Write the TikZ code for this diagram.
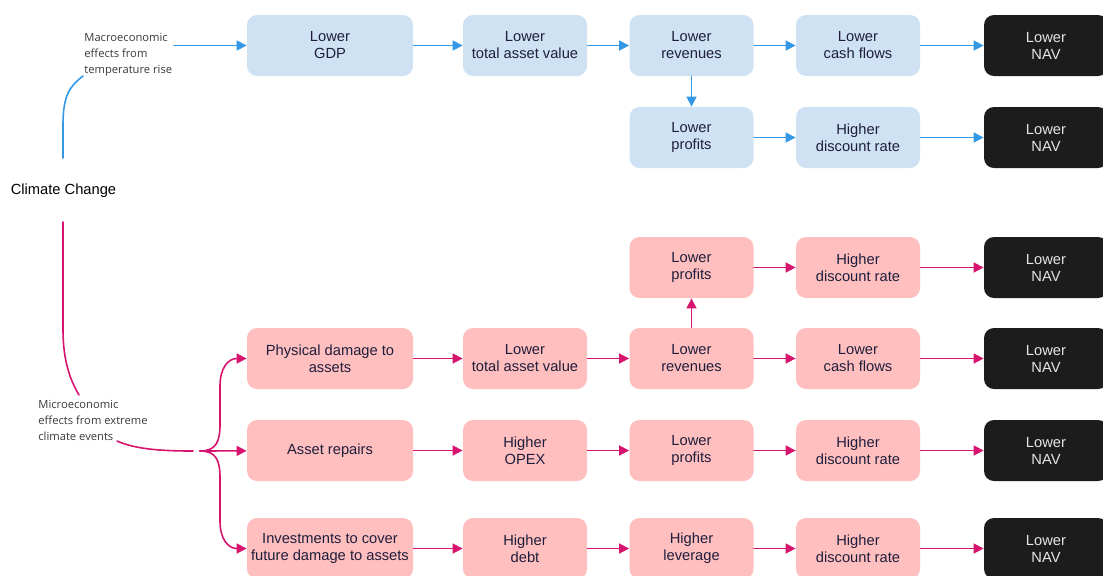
\documentclass[tikz,border=0pt]{standalone}
\usepackage{fontspec}
\setmainfont{Liberation Sans}
\newfontfamily\notefont{Open Sans}
\usetikzlibrary{arrows.meta}
\definecolor{boxblue}{HTML}{CFE2F3}
\definecolor{boxpink}{HTML}{FFBFBF}
\definecolor{navblack}{HTML}{1C1C1C}
\definecolor{arrblue}{HTML}{3399E6}
\definecolor{arrpink}{HTML}{D6146E}
\definecolor{boxtext}{HTML}{1E1E3C}
\definecolor{notetext}{HTML}{3A3A3A}
\begin{document}
\begin{tikzpicture}[x=0.5pt,y=-0.5pt,line join=round,line cap=round,
  font=\fontsize{7.35}{8.5}\selectfont,
  box/.style={rounded corners=5pt,align=center,minimum height=30.5pt,minimum width=62pt,inner sep=1pt,text=boxtext},
  wide/.style={minimum width=83pt},
  bbox/.style={box,fill=boxblue},
  pbox/.style={box,fill=boxpink},
  nav/.style={box,fill=navblack,text=white!90!black},
  note/.style={font=\notefont\fontsize{5.6}{8}\selectfont,text=notetext,align=left,anchor=west,inner sep=0pt},
  barrow/.style={draw=arrblue,line width=0.8pt,-{Triangle[length=5pt,width=5pt]}},
  parrow/.style={draw=arrpink,line width=0.8pt,-{Triangle[length=5pt,width=5pt]}},
  bline/.style={draw=arrblue,line width=0.8pt},
  pline/.style={draw=arrpink,line width=0.8pt}]
\useasboundingbox (0,0) rectangle (1103,575);
% left side
\node[text=black] (climate) at (63.5,191) {Climate Change};
\node[note] (macro) at (84,55) {Macroeconomic\\effects from\\temperature rise};
\node[note] (micro) at (38,420) {Microeconomic\\effects from extreme\\climate events};
% temperature rise chain
\node[bbox,wide] (gdp) at (330,45.5) {Lower\\GDP};
\node[bbox] (tav) at (525,45.5) {Lower\\total asset value};
\node[bbox] (rev) at (691.5,45.5) {Lower\\revenues};
\node[bbox] (cf) at (858,45.5) {Lower\\cash flows};
\node[nav] (nav1) at (1046,45.5) {Lower\\NAV};
\node[bbox] (prof) at (691.5,137.5) {Lower\\profits};
\node[bbox] (dr) at (858,137.5) {Higher\\discount rate};
\node[nav] (nav2) at (1046,137.5) {Lower\\NAV};
% extreme events chain
\node[pbox] (pprof) at (691.5,267.5) {Lower\\profits};
\node[pbox] (pdr) at (858,267.5) {Higher\\discount rate};
\node[nav] (nav3) at (1046,267.5) {Lower\\NAV};
\node[pbox,wide] (dmg) at (330,358.5) {Physical damage to\\assets};
\node[pbox] (ptav) at (525,358.5) {Lower\\total asset value};
\node[pbox] (prev) at (691.5,358.5) {Lower\\revenues};
\node[pbox] (pcf) at (858,358.5) {Lower\\cash flows};
\node[nav] (nav4) at (1046,358.5) {Lower\\NAV};
\node[pbox,wide] (rep) at (330,450.5) {Asset repairs};
\node[pbox] (opex) at (525,450.5) {Higher\\OPEX};
\node[pbox] (pprof2) at (691.5,450.5) {Lower\\profits};
\node[pbox] (pdr2) at (858,450.5) {Higher\\discount rate};
\node[nav] (nav5) at (1046,450.5) {Lower\\NAV};
\node[pbox,wide] (inv) at (330,548.5) {Investments to cover\\future damage to assets};
\node[pbox] (debt) at (525,548.5) {Higher\\debt};
\node[pbox] (lev) at (691.5,548.5) {Higher\\leverage};
\node[pbox] (pdr3) at (858,548.5) {Higher\\discount rate};
\node[nav] (nav6) at (1046,548.5) {Lower\\NAV};
% connectors
\coordinate (up1) at (63,158);
\coordinate (up2) at (83,76);
\coordinate (m1) at (174,45.5);
\coordinate (dn1) at (63,222);
\coordinate (dn2) at (79,395);
\coordinate (e1) at (117,441);
\coordinate (e2) at (193,451);
\coordinate (fork) at (200,451);
\draw[bline] (up1)--(63,125) .. controls (63,95) and (70,86) .. (up2);
\draw[barrow] (m1)--(gdp);
\foreach \a/\b in {gdp/tav,tav/rev,rev/cf,cf/nav1,rev/prof,prof/dr,dr/nav2}
  \draw[barrow] (\a)--(\b);
\draw[pline] (dn1)--(63,330) .. controls (63,360) and (70,380) .. (dn2);
\draw[pline] (e1) .. controls (135,449) and (160,451) .. (e2);
\draw[parrow] (fork) .. controls (216,451) and (220,442) .. (220,424)--(220,386) .. controls (220,368) and (228,358.5) .. (dmg.west);
\draw[parrow] (fork)--(rep);
\draw[parrow] (fork) .. controls (216,451) and (220,460) .. (220,478)--(220,521) .. controls (220,539) and (228,548.5) .. (inv.west);
\foreach \a/\b in {pprof/pdr,pdr/nav3,prev/pprof,dmg/ptav,ptav/prev,prev/pcf,pcf/nav4,rep/opex,opex/pprof2,pprof2/pdr2,pdr2/nav5,inv/debt,debt/lev,lev/pdr3,pdr3/nav6}
  \draw[parrow] (\a)--(\b);
\end{tikzpicture}
\end{document}
